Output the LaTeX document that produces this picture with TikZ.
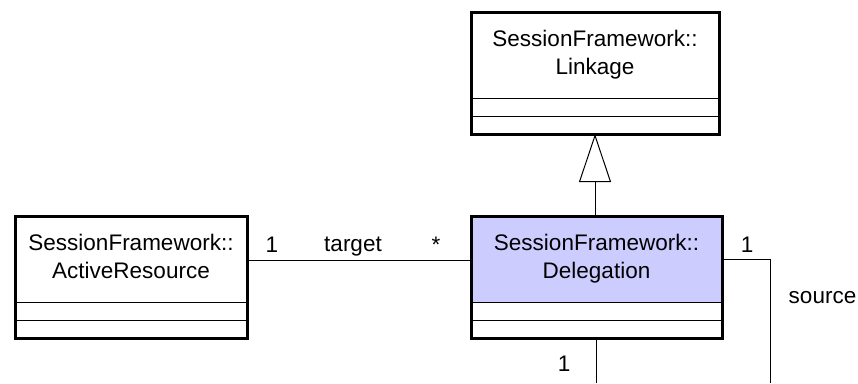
\documentclass[tikz,border=0pt]{standalone}
\usepackage{fontspec}
\setmainfont{Liberation Sans}
\usetikzlibrary{arrows.meta}
\definecolor{delegfill}{HTML}{CCCCFF}
\begin{document}
\begin{tikzpicture}[x=1pt,y=-1pt,
  classbox/.style={draw=black, line width=3pt, fill=white, minimum height=122pt,
    outer sep=0pt, inner sep=0pt},
  nametext/.style={anchor=north, align=center, inner sep=0pt,
    font=\fontsize{22.5}{28}\selectfont},
  multlabel/.style={anchor=base, inner sep=0pt, font=\fontsize{22.5}{27}\selectfont},
  conn/.style={draw=black, line width=1pt}
]
\useasboundingbox (0,0) rectangle (858,383);

% class: Linkage
\node[classbox, minimum width=248pt] (link) at (595,73) {};
\node[nametext] (linkname) at ([yshift=-18pt]link.north) {SessionFramework::\\Linkage};
\draw[conn] ([yshift=36pt]link.south west) -- ([yshift=36pt]link.south east);
\draw[conn] ([yshift=18pt]link.south west) -- ([yshift=18pt]link.south east);

% class: Delegation (name compartment highlighted)
\node[classbox, minimum width=251pt,
  path picture={\fill[delegfill] (path picture bounding box.north west)
    rectangle ([yshift=36pt]path picture bounding box.south east);}] (deleg) at (596.5,277) {};
\node[nametext] (delegname) at ([yshift=-18pt]deleg.north) {SessionFramework::\\Delegation};
\draw[conn] ([yshift=36pt]deleg.south west) -- ([yshift=36pt]deleg.south east);
\draw[conn] ([yshift=18pt]deleg.south west) -- ([yshift=18pt]deleg.south east);

% class: ActiveResource
\node[classbox, minimum width=232pt] (active) at (131,277) {};
\node[nametext] (activename) at ([yshift=-18pt]active.north) {SessionFramework::\\ActiveResource};
\draw[conn] ([yshift=36pt]active.south west) -- ([yshift=36pt]active.south east);
\draw[conn] ([yshift=18pt]active.south west) -- ([yshift=18pt]active.south east);

% free ends at the lower border
\coordinate (srcend) at (770,383);
\coordinate (botend) at (596,383);

% generalization
\draw[conn, -{Triangle[open, length=48pt, width=32pt]}] (deleg.north -| link.south) -- (link.south);

% association: target
\draw[conn] ([yshift=17pt]active.east) -- ([yshift=17pt]deleg.west);
\node[multlabel] (tgtone) at (272,252) {1};
\node[multlabel] (tgtname) at (353,251) {target};
\node[multlabel] (tgtmany) at (436,252) {*};

% association: source
\draw[conn] ([yshift=18pt]deleg.east) -| (srcend);
\node[multlabel] (srcone) at (747,252) {1};
\node[multlabel] (srcname) at (822.5,303) {source};

% association leaving the bottom
\draw[conn] (deleg.south -| botend) -- (botend);
\node[multlabel] (botone) at (564,371) {1};
\end{tikzpicture}
\end{document}
